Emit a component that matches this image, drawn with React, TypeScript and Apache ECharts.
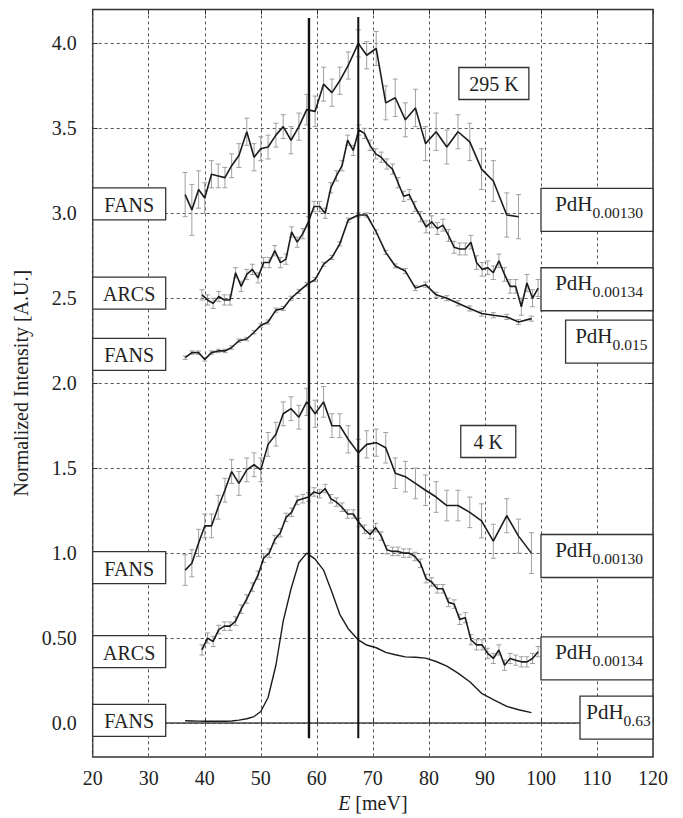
import React, { useEffect, useRef } from 'react';
import * as echarts from 'echarts';

// ---------------- data ----------------
const fansE = [36.5, 37.7, 38.9, 40.0, 41.2, 42.4, 43.6, 44.8, 46.1, 47.5, 48.8, 50.0, 51.3, 52.7, 54.0, 55.4, 56.8, 58.2, 59.7, 61.2, 62.7, 64.1, 65.6, 67.4, 68.9, 70.6, 72.3, 74.0, 75.8, 77.6, 79.4, 81.3, 83.2, 85.2, 87.3, 89.4, 91.5, 93.9, 96.0, 98.3];
const arcsE = [39.5, 40.5, 41.5, 42.5, 43.5, 44.5, 45.5, 46.5, 47.5, 48.5, 49.5, 50.5, 51.5, 52.5, 53.5, 54.5, 55.5, 56.5, 57.5, 58.5, 59.5, 60.5, 61.5, 62.5, 63.5, 64.5, 65.5, 66.5, 67.5, 68.5, 69.5, 70.5, 71.5, 72.5, 73.5, 74.5, 75.5, 76.5, 77.5, 78.5, 79.5, 80.5, 81.5, 82.5, 83.5, 84.5, 85.5, 86.5, 87.5, 88.5, 89.5, 90.5, 91.5, 92.5, 93.5, 94.5, 95.5, 96.5, 97.5, 98.5, 99.5];

// 295 K, FANS, PdH0.00130
const fans295_00130 = [3.11, 3.02, 3.14, 3.09, 3.23, 3.22, 3.21, 3.28, 3.34, 3.48, 3.33, 3.38, 3.39, 3.46, 3.51, 3.43, 3.51, 3.61, 3.60, 3.76, 3.71, 3.78, 3.87, 4.00, 3.93, 3.97, 3.65, 3.68, 3.55, 3.62, 3.41, 3.48, 3.39, 3.48, 3.42, 3.26, 3.19, 2.99, 2.98];
const fans295_00130Err = [0.13, 0.15, 0.11, 0.09, 0.08, 0.07, 0.06, 0.07, 0.07, 0.08, 0.08, 0.07, 0.07, 0.07, 0.07, 0.08, 0.08, 0.09, 0.09, 0.1, 0.08, 0.08, 0.08, 0.08, 0.08, 0.1, 0.1, 0.11, 0.1, 0.11, 0.1, 0.11, 0.1, 0.1, 0.11, 0.12, 0.12, 0.13, 0.13];
// 295 K, ARCS, PdH0.00134
const arcs295_00134 = [2.52, 2.49, 2.47, 2.51, 2.49, 2.49, 2.65, 2.57, 2.64, 2.67, 2.62, 2.71, 2.71, 2.78, 2.71, 2.73, 2.89, 2.83, 2.88, 2.95, 3.04, 3.04, 3.00, 3.15, 3.22, 3.28, 3.43, 3.37, 3.49, 3.47, 3.40, 3.35, 3.33, 3.29, 3.26, 3.18, 3.10, 3.11, 3.04, 2.98, 2.92, 2.95, 2.91, 2.93, 2.87, 2.80, 2.79, 2.79, 2.83, 2.71, 2.67, 2.68, 2.65, 2.72, 2.64, 2.57, 2.57, 2.45, 2.59, 2.50, 2.56];
const arcs295_00134Err = [0.03, 0.03, 0.03, 0.03, 0.03, 0.03, 0.03, 0.03, 0.03, 0.03, 0.03, 0.03, 0.03, 0.03, 0.03, 0.03, 0.03, 0.03, 0.03, 0.03, 0.03, 0.03, 0.03, 0.03, 0.03, 0.03, 0.03, 0.03, 0.03, 0.03, 0.03, 0.03, 0.03, 0.03, 0.03, 0.03, 0.03, 0.03, 0.03, 0.03, 0.035, 0.035, 0.035, 0.035, 0.035, 0.035, 0.035, 0.035, 0.04, 0.04, 0.04, 0.04, 0.04, 0.04, 0.04, 0.04, 0.04, 0.05, 0.05, 0.05, 0.05];
// 295 K, FANS, PdH0.015
const fans295_015 = [2.15, 2.18, 2.18, 2.14, 2.18, 2.19, 2.19, 2.21, 2.25, 2.26, 2.30, 2.34, 2.36, 2.43, 2.44, 2.50, 2.54, 2.58, 2.61, 2.70, 2.74, 2.82, 2.96, 2.99, 2.99, 2.89, 2.77, 2.69, 2.66, 2.56, 2.58, 2.52, 2.50, 2.47, 2.44, 2.41, 2.40, 2.39, 2.36, 2.38];
const fans295_015Err = [0.01, 0.01, 0.01, 0.01, 0.01, 0.01, 0.01, 0.01, 0.01, 0.01, 0.01, 0.01, 0.012, 0.012, 0.012, 0.012, 0.012, 0.012, 0.012, 0.012, 0.012, 0.012, 0.012, 0.012, 0.012, 0.012, 0.012, 0.012, 0.015, 0.015, 0.015, 0.015, 0.015, 0.015, 0.015, 0.015, 0.015, 0.015, 0.015, 0.015];
// 4 K, FANS, PdH0.00130
const fans4_00130 = [0.90, 0.94, 1.06, 1.16, 1.16, 1.27, 1.37, 1.48, 1.41, 1.49, 1.52, 1.49, 1.64, 1.70, 1.82, 1.85, 1.80, 1.89, 1.82, 1.89, 1.75, 1.75, 1.67, 1.59, 1.64, 1.65, 1.62, 1.47, 1.45, 1.41, 1.37, 1.33, 1.28, 1.28, 1.24, 1.19, 1.07, 1.22, 1.10, 1.00];
const fans4_00130Err = [0.09, 0.08, 0.08, 0.07, 0.07, 0.07, 0.07, 0.07, 0.07, 0.07, 0.07, 0.07, 0.07, 0.07, 0.07, 0.07, 0.07, 0.08, 0.08, 0.09, 0.07, 0.07, 0.08, 0.08, 0.08, 0.08, 0.09, 0.09, 0.09, 0.09, 0.09, 0.09, 0.09, 0.09, 0.09, 0.1, 0.1, 0.1, 0.1, 0.12];
// 4 K, ARCS, PdH0.00134
const arcs4_00134 = [0.43, 0.50, 0.48, 0.55, 0.57, 0.57, 0.60, 0.67, 0.73, 0.80, 0.87, 0.97, 1.00, 1.08, 1.12, 1.21, 1.24, 1.31, 1.32, 1.33, 1.36, 1.35, 1.38, 1.32, 1.30, 1.27, 1.23, 1.23, 1.18, 1.14, 1.11, 1.15, 1.10, 1.02, 1.01, 1.01, 1.00, 1.00, 0.98, 0.94, 0.85, 0.83, 0.79, 0.79, 0.71, 0.70, 0.61, 0.62, 0.49, 0.46, 0.46, 0.41, 0.38, 0.43, 0.34, 0.38, 0.37, 0.36, 0.36, 0.38, 0.42];
const arcs4_00134Err = [0.03, 0.03, 0.03, 0.025, 0.025, 0.025, 0.025, 0.025, 0.025, 0.025, 0.025, 0.025, 0.025, 0.025, 0.025, 0.025, 0.025, 0.025, 0.025, 0.025, 0.025, 0.025, 0.025, 0.025, 0.025, 0.025, 0.025, 0.025, 0.025, 0.025, 0.025, 0.025, 0.025, 0.025, 0.025, 0.025, 0.025, 0.025, 0.025, 0.025, 0.025, 0.025, 0.025, 0.025, 0.025, 0.025, 0.03, 0.03, 0.03, 0.03, 0.03, 0.03, 0.03, 0.03, 0.03, 0.03, 0.03, 0.03, 0.03, 0.03, 0.03];
// 4 K, FANS, PdH0.63
const fans4_063 = [0.013, 0.012, 0.011, 0.010, 0.010, 0.010, 0.010, 0.012, 0.017, 0.025, 0.038, 0.068, 0.15, 0.34, 0.60, 0.79, 0.945, 1.0, 0.965, 0.90, 0.77, 0.64, 0.555, 0.489, 0.459, 0.443, 0.416, 0.402, 0.389, 0.387, 0.382, 0.362, 0.335, 0.294, 0.243, 0.175, 0.138, 0.098, 0.078, 0.061];

// reference energies (vertical lines), meV
const peakLines = [58.6, 67.4];

// axis ticks
const yTickValues = [0, 0.5, 1.0, 1.5, 2.0, 2.5, 3.0, 3.5, 4.0];
const yTickLabels = ['0.0', '0.50', '1.0', '1.5', '2.0', '2.5', '3.0', '3.5', '4.0'];

// annotation texts and their levels (A.U.)
const leftLabels = ['FANS', 'ARCS', 'FANS', 'FANS', 'ARCS', 'FANS'];
const leftLabelLevels = [3.055, 2.53, 2.17, 0.914, 0.42, 0.015];
const rightLabelSubs = ['0.00130', '0.00134', '0.015', '0.00130', '0.00134', '0.63'];
const rightLabelLevels = [3.02, 2.553, 2.245, 0.983, 0.381, 0.032];
const tempLabels = ['295 K', '4 K'];
const tempLabelE = [91.6, 90.6];
const tempLabelLevels = [3.764, 1.657];

// ---------------- layout / style ----------------
const FONT = 'Liberation Serif';
const INK = '#1c1c1c';
const rightBoxWidths = [112, 112, 87.4, 112, 112, 73];
const tempBoxWidths = [70, 55];

const pair = (xs: number[], ys: number[]) => ys.map((y, i) => [xs[i], y]);
const triple = (xs: number[], ys: number[], es: number[]) => ys.map((y, i) => [xs[i], y, es[i]]);

const errRender = (params: any, api: any) => {
  const x = api.value(0);
  const y = api.value(1);
  const e = api.value(2);
  const t = api.coord([x, y + e]);
  const b = api.coord([x, y - e]);
  const hw = 2.5;
  const st = { stroke: '#a0a0a0', lineWidth: 1 };
  return {
    type: 'group',
    children: [
      { type: 'line', shape: { x1: t[0], y1: t[1], x2: b[0], y2: b[1] }, style: st },
      { type: 'line', shape: { x1: t[0] - hw, y1: t[1], x2: t[0] + hw, y2: t[1] }, style: st },
      { type: 'line', shape: { x1: b[0] - hw, y1: b[1], x2: b[0] + hw, y2: b[1] }, style: st },
    ],
  };
};

const lineSeries = (name: string, data: number[][], width = 1.6) => ({
  name,
  type: 'line',
  xAxisIndex: 0,
  yAxisIndex: 0,
  data,
  symbol: 'none',
  showSymbol: false,
  lineStyle: { color: INK, width },
  z: 5,
  silent: true,
});
const errSeries = (name: string, data: number[][]) => ({
  name: name + ' err',
  type: 'custom',
  xAxisIndex: 0,
  yAxisIndex: 0,
  data,
  renderItem: errRender,
  encode: { x: 0, y: 1 },
  z: 3,
  silent: true,
});

export default function App() {
  const ref = useRef<HTMLDivElement>(null);
  useEffect(() => {
    if (!ref.current) return;
    const chart = echarts.init(ref.current, null, { renderer: 'svg' });
    const dashed = { type: [3, 3] as any, color: '#555', width: 1 };
    const option: any = {
      animation: false,
      textStyle: { fontFamily: FONT },
      grid: [
        { left: 92.7, right: 30, top: 9.4, bottom: 61, show: true, borderColor: '#333', borderWidth: 1.5, backgroundColor: 'transparent' },
        { left: 92.7, right: 30, top: 43.3, bottom: 95 },
      ],
      xAxis: [
        {
          type: 'value', gridIndex: 0, min: 20, max: 120, interval: 10, position: 'bottom',
          axisLine: { show: false },
          axisTick: { inside: true, length: 5, lineStyle: { color: '#333' } },
          axisLabel: { fontFamily: FONT, fontSize: 20, color: '#222', margin: 11 },
          splitLine: { show: true, lineStyle: dashed },
          name: '{i|E} [meV]', nameLocation: 'middle', nameGap: 33,
          nameTextStyle: { fontFamily: FONT, fontSize: 20, color: '#222', rich: { i: { fontStyle: 'italic', fontFamily: FONT, fontSize: 20, color: '#222' } } },
        },
        {
          type: 'value', gridIndex: 0, min: 20, max: 120, interval: 10, position: 'top',
          axisLine: { show: false }, axisTick: { inside: true, length: 5, lineStyle: { color: '#333' } },
          axisLabel: { show: false }, splitLine: { show: false },
        },
        { type: 'value', gridIndex: 1, min: 20, max: 120, show: false },
      ],
      yAxis: [
        { type: 'value', gridIndex: 0, min: -0.2, max: 4.2, show: false },
        {
          type: 'value', gridIndex: 1, min: 0, max: 4, interval: 0.5,
          axisLine: { show: false },
          axisTick: { inside: true, length: 5, lineStyle: { color: '#333' } },
          axisLabel: {
            fontFamily: FONT, fontSize: 20, color: '#222', margin: 16,
            formatter: (v: number) => {
              const i = yTickValues.findIndex((t) => Math.abs(t - v) < 1e-6);
              return i >= 0 ? yTickLabels[i] : '';
            },
          },
          splitLine: { show: true, lineStyle: dashed },
          name: 'Normalized Intensity [A.U.]', nameLocation: 'middle', nameGap: 50,
          nameTextStyle: { fontFamily: FONT, fontSize: 20, color: '#222' },
        },
        {
          type: 'value', gridIndex: 1, min: 0, max: 4, interval: 0.5, position: 'right',
          axisLine: { show: false }, axisTick: { inside: true, length: 5, lineStyle: { color: '#333' } },
          axisLabel: { show: false }, splitLine: { show: false },
        },
      ],
      series: [
        {
          name: 'baseline', type: 'line', xAxisIndex: 0, yAxisIndex: 0,
          data: [[20, 0], [120, 0]], symbol: 'none', lineStyle: { color: '#444', width: 1.3 }, z: 4, silent: true,
        },
        errSeries('FANS 295K 0.00130', triple(fansE, fans295_00130, fans295_00130Err)),
        errSeries('ARCS 295K 0.00134', triple(arcsE, arcs295_00134, arcs295_00134Err)),
        errSeries('FANS 295K 0.015', triple(fansE, fans295_015, fans295_015Err)),
        errSeries('FANS 4K 0.00130', triple(fansE, fans4_00130, fans4_00130Err)),
        errSeries('ARCS 4K 0.00134', triple(arcsE, arcs4_00134, arcs4_00134Err)),
        lineSeries('FANS 295K 0.00130', pair(fansE, fans295_00130)),
        lineSeries('ARCS 295K 0.00134', pair(arcsE, arcs295_00134)),
        lineSeries('FANS 295K 0.015', pair(fansE, fans295_015)),
        lineSeries('FANS 4K 0.00130', pair(fansE, fans4_00130)),
        lineSeries('ARCS 4K 0.00134', pair(arcsE, arcs4_00134)),
        lineSeries('FANS 4K 0.63', pair(fansE, fans4_063), 1.4),
        {
          name: 'line1', type: 'line', xAxisIndex: 0, yAxisIndex: 0,
          data: [[peakLines[0], -0.09], [peakLines[0], 4.15]], symbol: 'none',
          lineStyle: { color: '#111', width: 2.4 }, z: 6, silent: true,
        },
        {
          name: 'line2', type: 'line', xAxisIndex: 0, yAxisIndex: 0,
          data: [[peakLines[1], -0.09], [peakLines[1], 4.155]], symbol: 'none',
          lineStyle: { color: '#111', width: 2 }, z: 6, silent: true,
        },
      ],
    };
    chart.setOption(option);

    const px = (x: number, y: number) => chart.convertToPixel({ gridIndex: 0 } as any, [x, y]) as number[];
    const leftX = px(20, 0)[0];
    const rightX = px(120, 0)[0];
    const box = { fill: '#fff', stroke: '#333', lineWidth: 1.3 };
    const graphics: any[] = [];
    leftLabels.forEach((t, i) => {
      const cy = px(20, leftLabelLevels[i])[1];
      graphics.push(
        { type: 'rect', z: 100, shape: { x: leftX, y: cy - 16, width: 73, height: 32 }, style: box },
        { type: 'text', z: 101, x: leftX + 36.5, y: cy + 1, style: { text: t, fontFamily: FONT, fontSize: 20, fill: '#222', align: 'center', verticalAlign: 'middle' } },
      );
    });
    rightLabelSubs.forEach((s, i) => {
      const cy = px(120, rightLabelLevels[i])[1];
      const w = rightBoxWidths[i];
      graphics.push(
        { type: 'rect', z: 100, shape: { x: rightX - w, y: cy - 21.5, width: w, height: 43 }, style: box },
        {
          type: 'text', z: 101, x: rightX - w / 2 + 2, y: cy - 3,
          style: {
            text: `{m|PdH}{s|${s}}`, align: 'center', verticalAlign: 'middle',
            rich: {
              m: { fontFamily: FONT, fontSize: 21, lineHeight: 27, verticalAlign: 'top', fill: '#222' },
              s: { fontFamily: FONT, fontSize: 15.5, lineHeight: 16, verticalAlign: 'bottom', fill: '#222' },
            },
          },
        },
      );
    });
    tempLabels.forEach((t, i) => {
      const c = px(tempLabelE[i], tempLabelLevels[i]);
      const w = tempBoxWidths[i];
      graphics.push(
        { type: 'rect', z: 100, shape: { x: c[0] - w / 2, y: c[1] - 16, width: w, height: 32 }, style: box },
        { type: 'text', z: 101, x: c[0], y: c[1] + 1, style: { text: t, fontFamily: FONT, fontSize: 20, fill: '#222', align: 'center', verticalAlign: 'middle' } },
      );
    });
    chart.setOption({ graphic: graphics });

    return () => chart.dispose();
  }, []);
  return <div ref={ref} style={{ position: 'absolute', left: 0, top: 0, width: 683, height: 818 }} />;
}
